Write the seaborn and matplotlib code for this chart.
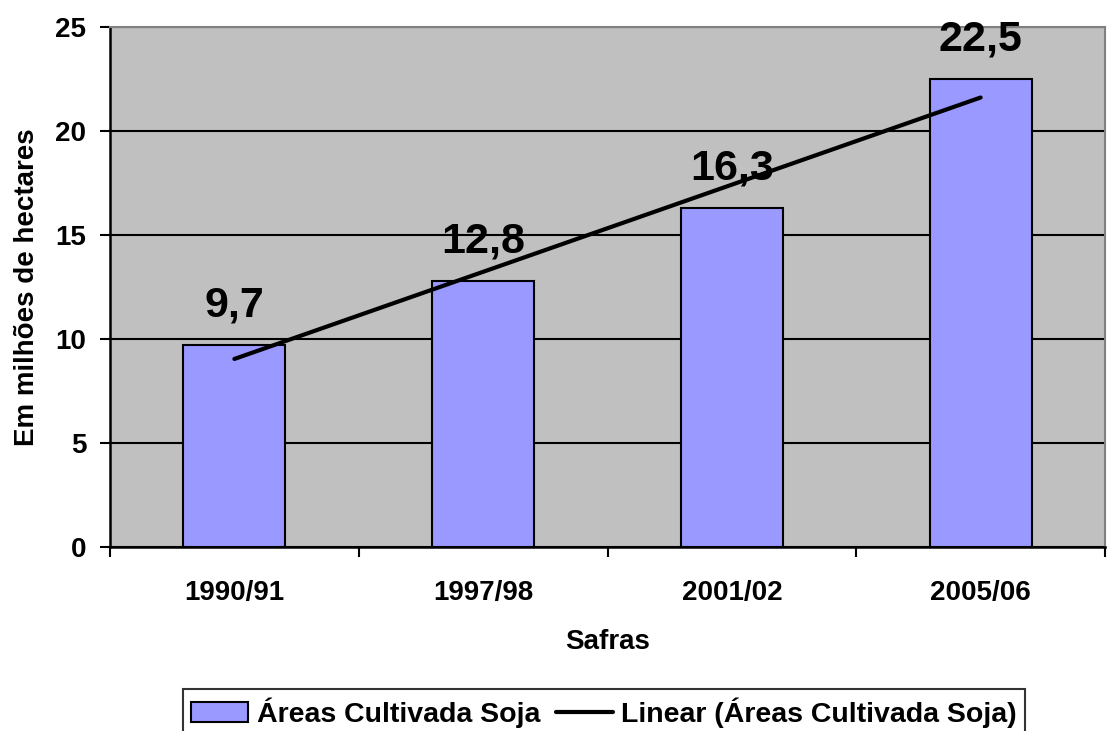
import matplotlib
matplotlib.use('Agg')
import matplotlib.pyplot as plt
import seaborn as sns
import numpy as np
import pandas as pd
from matplotlib.patches import Patch
from matplotlib.lines import Line2D

# Data
safras = ['1990/91', '1997/98', '2001/02', '2005/06']
area = [9.7, 12.8, 16.3, 22.5]
labels = ['9,7', '12,8', '16,3', '22,5']

df = pd.DataFrame({'safra': safras, 'area': area})

sns.set_style('white')
plt.rcParams['font.family'] = ['Liberation Sans', 'DejaVu Sans']
plt.rcParams['font.weight'] = 'bold'
plt.rcParams['text.color'] = 'black'
plt.rcParams['axes.labelcolor'] = 'black'
plt.rcParams['xtick.color'] = 'black'
plt.rcParams['ytick.color'] = 'black'

fig = plt.figure(figsize=(11.07, 7.31), dpi=100)
ax = fig.add_axes([110 / 1107, 1 - 547 / 731, 995 / 1107, 520 / 731])
ax.set_facecolor('#C0C0C0')

sns.barplot(data=df, x='safra', y='area', color='#9999FF', width=0.41,
            edgecolor='black', linewidth=1.5, saturation=1, ax=ax, zorder=3)

# linear trend line (same as Excel's linear trendline)
xpos = np.arange(len(area))
coef = np.polyfit(xpos + 1, area, 1)
trend = np.polyval(coef, xpos + 1)
ax.plot(xpos, trend, color='black', linewidth=3, zorder=6)

for i, (v, t) in enumerate(zip(area, labels)):
    ax.annotate(t, (i, v), xytext=(0, 14), textcoords='offset points',
                ha='center', va='bottom', fontsize=31, fontweight='bold', zorder=5)

ax.set_xlim(-0.5, 3.5)
ax.set_ylim(0, 25)
ax.set_yticks([0, 5, 10, 15, 20, 25])
ax.yaxis.grid(True, color='black', linewidth=1.5, zorder=0)
ax.set_axisbelow(True)

# category boundary ticks on x
ax.set_xticks([-0.5, 0.5, 1.5, 2.5, 3.5], minor=True)
ax.tick_params(axis='x', which='major', length=0, pad=24, labelsize=20)
ax.tick_params(axis='x', which='minor', length=7, width=1.5, direction='out', color='black')
ax.tick_params(axis='y', length=7, width=1.5, direction='out', color='black', labelsize=20, pad=10)
ax.tick_params(left=True, bottom=True, which='both')
for lab in ax.get_xticklabels() + ax.get_yticklabels():
    lab.set_fontweight('bold')

for s in ['left', 'bottom']:
    ax.spines[s].set_color('black')
    ax.spines[s].set_linewidth(1.8)
for s in ['top', 'right']:
    ax.spines[s].set_color('#808080')
    ax.spines[s].set_linewidth(1.5)

ax.set_xlabel('Safras', fontsize=20, fontweight='bold', labelpad=16)
ax.set_ylabel('Em milhões de hectares', fontsize=20, fontweight='bold', labelpad=11)

handles = [Patch(facecolor='#9999FF', edgecolor='black', linewidth=1.5),
           Line2D([], [], color='black', linewidth=3)]
leg = fig.legend(handles, ['Áreas Cultivada Soja', 'Linear (Áreas Cultivada Soja)'],
                 loc='upper center', bbox_to_anchor=(604 / 1107, 1 - 689 / 731),
                 ncol=2, frameon=True, fancybox=False,
                 prop={'weight': 'bold', 'size': 20.5}, handlelength=2.0,
                 handletextpad=0.3, columnspacing=0.55, borderpad=0.3,
                 borderaxespad=0)
leg.get_frame().set_edgecolor('black')
leg.get_frame().set_linewidth(1.5)

fig.savefig('out.png', dpi=100, facecolor='white')
